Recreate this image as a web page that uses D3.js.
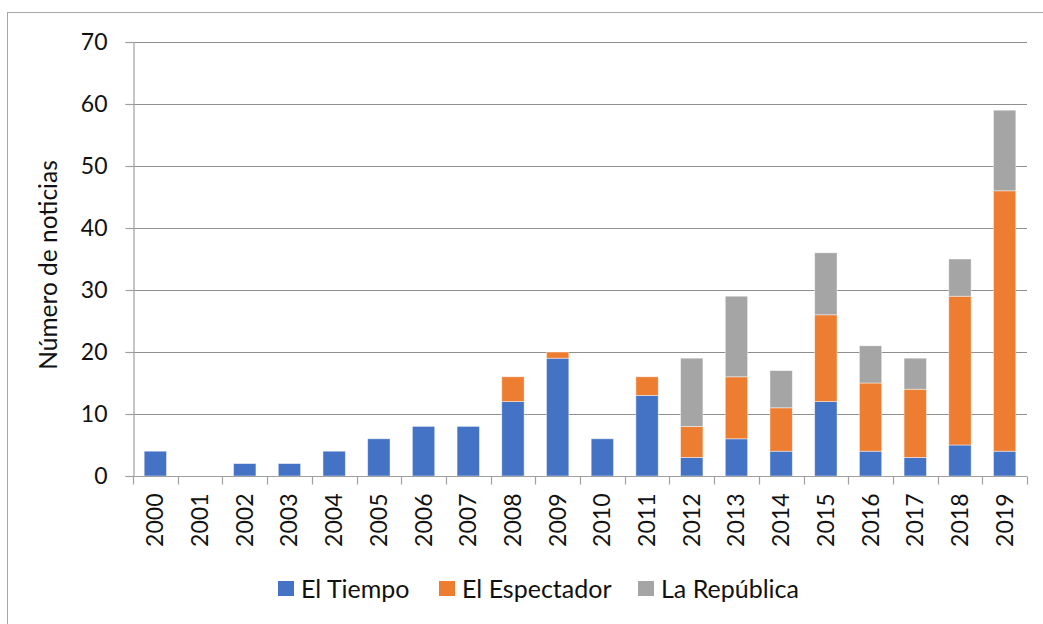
<!DOCTYPE html>
<html>
<head>
<meta charset="utf-8">
<style>
  body { margin: 0; background: #fff; }
  text { font-family: Lato, "Noto Sans", sans-serif; fill: #111; }
</style>
</head>
<body>
<svg width="1043" height="624"></svg>
<script src="https://d3js.org/d3.v7.min.js"></script>
<script>
// years on the x axis
var years = ["2000","2001","2002","2003","2004","2005","2006","2007","2008","2009",
             "2010","2011","2012","2013","2014","2015","2016","2017","2018","2019"]
// news counts per newspaper
var elTiempo      = [4, 0, 2, 2, 4, 6, 8, 8, 12, 19, 6, 13, 3, 6, 4, 12, 4, 3, 5, 4]
var elEspectador  = [0, 0, 0, 0, 0, 0, 0, 0, 4, 1, 0, 3, 5, 10, 7, 14, 11, 11, 24, 42]
var laRepublica   = [0, 0, 0, 0, 0, 0, 0, 0, 0, 0, 0, 0, 11, 13, 6, 10, 6, 5, 6, 13]
var seriesNames   = ["El Tiempo", "El Espectador", "La República"]
var seriesColors  = ["#4472C4", "#ED7D31", "#A5A5A5"]
var yTicks        = [0, 10, 20, 30, 40, 50, 60, 70]

var svg = d3.select("svg")

// table for the stack layout
var rows = years.map(function (y, i) {
  return { year: y, "El Tiempo": elTiempo[i], "El Espectador": elEspectador[i], "La República": laRepublica[i] }
})
var stacked = d3.stack().keys(seriesNames)(rows)

// plot area (note: "top" is reserved on window, so use plot* names)
var plotLeft = 133, plotRight = 1027, plotTop = 42, plotBottom = 476

var x = d3.scaleBand().domain(years).range([plotLeft, plotRight]).paddingInner(0.5).paddingOuter(0.25)
var xEdge = d3.scaleBand().domain(years).range([plotLeft, plotRight])
var y = d3.scaleLinear().domain([0, 70]).range([plotBottom, plotTop])

// chart frame
svg.append("rect")
  .attr("x", 7.5).attr("y", 12.5)
  .attr("width", 1100).attr("height", 700)
  .attr("fill", "none").attr("stroke", "#a6a6a6").attr("stroke-width", 1)

// gridlines
svg.append("g").selectAll("line")
  .data(yTicks.slice(1))
  .enter().append("line")
  .attr("x1", plotLeft).attr("x2", plotRight)
  .attr("y1", function (d) { return Math.round(y(d)) + 0.5 })
  .attr("y2", function (d) { return Math.round(y(d)) + 0.5 })
  .attr("stroke", "#8f8f8f").attr("stroke-width", 1.2)

// bars
svg.append("g").selectAll("g")
  .data(stacked)
  .enter().append("g")
  .attr("fill", function (d, i) { return seriesColors[i] })
  .selectAll("rect")
  .data(function (d) { return d.filter(function (p) { return p[1] > p[0] }) })
  .enter().append("rect")
  .attr("x", function (d) { return x(d.data.year) })
  .attr("width", x.bandwidth())
  .attr("y", function (d) { return y(d[1]) })
  .attr("height", function (d) { return y(d[0]) - y(d[1]) })
  .attr("stroke", "#ffffff").attr("stroke-opacity", 0.55).attr("stroke-width", 0.8)

// y axis
var yAxis = svg.append("g")
  .attr("transform", "translate(" + (plotLeft + 0.5) + ",0)")
  .call(d3.axisLeft(y).tickValues(yTicks).tickSize(8).tickPadding(18))
yAxis.attr("font-family", null).attr("font-size", null)
yAxis.select(".domain").attr("stroke", "#a0a0a0").attr("stroke-width", 1.2)
yAxis.selectAll(".tick line").attr("stroke", "#a0a0a0").attr("stroke-width", 1.2)
yAxis.selectAll("text").style("font-size", "23px").attr("fill", "#111")

// x axis line with ticks on the category edges
var xAxis = svg.append("g").attr("transform", "translate(0," + (plotBottom + 0.5) + ")")
xAxis.append("line")
  .attr("x1", plotLeft).attr("x2", plotRight)
  .attr("stroke", "#a0a0a0").attr("stroke-width", 1.2)
xAxis.selectAll(".edge")
  .data(years.concat(["end"]))
  .enter().append("line")
  .attr("class", "edge")
  .attr("x1", function (d, i) { return Math.round(plotLeft + i * xEdge.step()) + 0.5 })
  .attr("x2", function (d, i) { return Math.round(plotLeft + i * xEdge.step()) + 0.5 })
  .attr("y1", 0).attr("y2", 8)
  .attr("stroke", "#a0a0a0").attr("stroke-width", 1.2)
xAxis.selectAll(".lbl")
  .data(years)
  .enter().append("text")
  .attr("class", "lbl")
  .attr("transform", function (d) {
    return "translate(" + (x(d) + x.bandwidth() / 2 + 8) + ",17) rotate(-90)"
  })
  .attr("text-anchor", "end")
  .style("font-size", "23px")
  .text(function (d) { return d })

// y axis title
svg.append("text")
  .attr("transform", "translate(" + 57 + "," + 265 + ") rotate(-90)")
  .attr("text-anchor", "middle")
  .style("font-size", "24.5px")
  .text("Número de noticias")

// legend
var legendX = [278, 439, 638]
var legend = svg.append("g").selectAll("g")
  .data(seriesNames)
  .enter().append("g")
  .attr("transform", function (d, i) { return "translate(" + legendX[i] + ",581)" })
legend.append("rect")
  .attr("width", 16).attr("height", 15)
  .attr("fill", function (d, i) { return seriesColors[i] })
legend.append("text")
  .attr("x", 23).attr("y", 17)
  .style("font-size", "25px")
  .text(function (d) { return d })
</script>
</body>
</html>
